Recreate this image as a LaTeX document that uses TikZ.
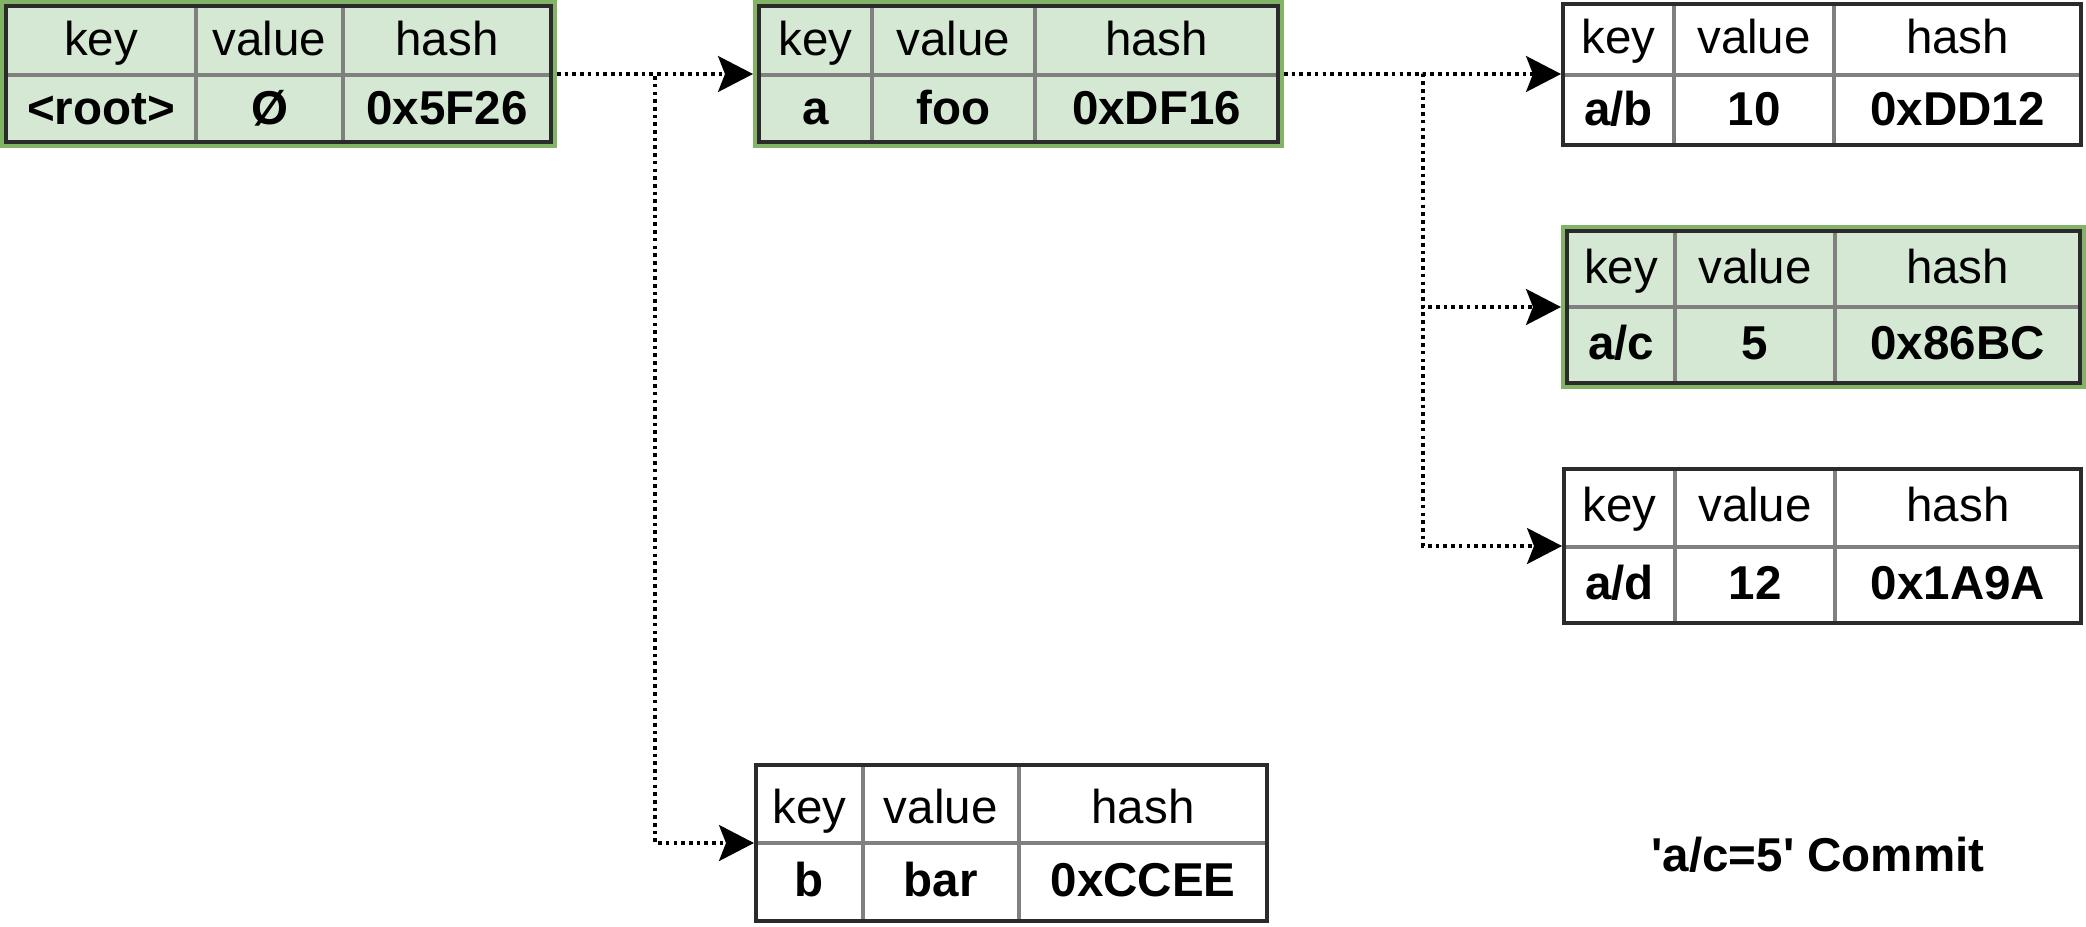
\documentclass[tikz,border=0pt]{standalone}
\usepackage{fontspec}
\setmainfont{Liberation Sans}
\newfontfamily\rawsans{Liberation Sans}
\usetikzlibrary{arrows.meta}
\definecolor{gfill}{HTML}{D5E8D4}
\definecolor{gstroke}{HTML}{82B366}
\definecolor{dark}{HTML}{2B2B2B}
\definecolor{sepgray}{HTML}{808080}
\begin{document}
\begin{tikzpicture}[x=0.5pt,y=-0.5pt,
  greenbox/.style={rectangle, draw=gstroke, fill=gfill, line width=2pt, inner sep=0pt},
  tablebox/.style={rectangle, draw=dark, line width=2pt, inner sep=0pt},
  sepline/.style={draw=sepgray, line width=2pt},
  cell/.style={anchor=base, inner sep=0pt, font=\fontsize{23.75pt}{28pt}\selectfont},
  bcell/.style={anchor=base, inner sep=0pt, font=\fontsize{23.75pt}{28pt}\selectfont\bfseries},
  link/.style={draw=black, line width=1.6pt, dash pattern=on 1.8pt off 2.05pt,
    -{Stealth[length=17.5pt,width=18pt,inset=3.5pt]}}
]
\useasboundingbox (0,0) rectangle (2086,926);

% ---------- root ----------
\node[greenbox, minimum width=276.5pt, minimum height=72pt] (rootg) at (278.5,74) {};
\draw[sepline] (6,75) -- (551,75) (196,6) -- (196,142) (343,6) -- (343,142);
\node[tablebox, minimum width=272.5pt, minimum height=68pt] (root) at (278.5,74) {};
\node[cell] (root-k) at (101,55) {key};
\node[cell] (root-v) at (269.5,55) {value};
\node[cell] (root-h) at (447,55) {hash};
\node[bcell] (root-kv) at (101,124) {<root>};
\node[bcell] (root-vv) at (269.5,124) {Ø};
\node[bcell] (root-hv) at (447,124) {0x5F26};

% ---------- a ----------
\node[greenbox, minimum width=263.5pt, minimum height=72pt] (ag) at (1018.5,74) {};
\draw[sepline] (759,75) -- (1278,75) (872,6) -- (872,142) (1035,6) -- (1035,142);
\node[tablebox, minimum width=259.5pt, minimum height=68pt] (a) at (1018.5,74) {};
\node[cell] (a-k) at (815.5,55) {key};
\node[cell] (a-v) at (953.5,55) {value};
\node[cell] (a-h) at (1156.5,55) {hash};
\node[bcell] (a-kv) at (815.5,124) {a};
\node[bcell] (a-vv) at (953.5,124) {foo};
\node[bcell] (a-hv) at (1156.5,124) {0xDF16};

% ---------- a/b ----------
\draw[sepline] (1563,75) -- (2081,75) (1674,4) -- (1674,145) (1834,4) -- (1834,145);
\node[tablebox, minimum width=259pt, minimum height=70.5pt] (ab) at (1822,74.5) {};
\node[cell] (ab-k) at (1618.5,54) {key};
\node[cell] (ab-v) at (1754,54) {value};
\node[cell] (ab-h) at (1957.5,54) {hash};
\node[bcell] (ab-kv) at (1618.5,125) {a/b};
\node[bcell] (ab-vv) at (1754,125) {10};
\node[bcell] (ab-hv) at (1957.5,125) {0xDD12};

% ---------- a/c ----------
\node[greenbox, minimum width=260.5pt, minimum height=80pt] (acg) at (1823.5,307) {};
\draw[sepline] (1567,307) -- (2080,307) (1675,231) -- (1675,383) (1835,231) -- (1835,383);
\node[tablebox, minimum width=256.5pt, minimum height=76pt] (ac) at (1823.5,307) {};
\node[cell] (ac-k) at (1621,283) {key};
\node[cell] (ac-v) at (1755,283) {value};
\node[cell] (ac-h) at (1957.5,283) {hash};
\node[bcell] (ac-kv) at (1621,359) {a/c};
\node[bcell] (ac-vv) at (1755,359) {5};
\node[bcell] (ac-hv) at (1957.5,359) {0x86BC};

% ---------- a/d ----------
\draw[sepline] (1564,547) -- (2081,547) (1675,469) -- (1675,623) (1835,469) -- (1835,623);
\node[tablebox, minimum width=258.5pt, minimum height=77pt] (ad) at (1822.5,546) {};
\node[cell] (ad-k) at (1619.5,521) {key};
\node[cell] (ad-v) at (1755,521) {value};
\node[cell] (ad-h) at (1958,521) {hash};
\node[bcell] (ad-kv) at (1619.5,599) {a/d};
\node[bcell] (ad-vv) at (1755,599) {12};
\node[bcell] (ad-hv) at (1958,599) {0x1A9A};

% ---------- b ----------
\draw[sepline] (756,843) -- (1267,843) (862.5,765) -- (862.5,921) (1019,765) -- (1019,921);
\node[tablebox, minimum width=255.5pt, minimum height=78pt] (b) at (1011.5,843) {};
\node[cell] (b-k) at (809.25,823) {key};
\node[cell] (b-v) at (940.75,823) {value};
\node[cell] (b-h) at (1143,823) {hash};
\node[bcell] (b-kv) at (809.25,896.5) {b};
\node[bcell] (b-vv) at (940.75,896.5) {bar};
\node[bcell] (b-hv) at (1143,896.5) {0xCCEE};

% ---------- connectors ----------
\draw[link] (rootg.east) -- (ag.west);
\draw[link] (rootg.east) -- ++(98,0) |- (b.west);
\draw[link] (ag.east) -- (ag.east -| ab.west);
\draw[link] (ag.east) -- ++(139,0) |- (acg.west);
\draw[link] (ag.east) -- ++(139,0) |- (ad.west);

% ---------- caption ----------
\node[anchor=base, inner sep=0pt, font=\rawsans\fontsize{23.75pt}{28pt}\selectfont\bfseries] (commit) at (1818,871) {'a/c=5' Commit};
\end{tikzpicture}
\end{document}
